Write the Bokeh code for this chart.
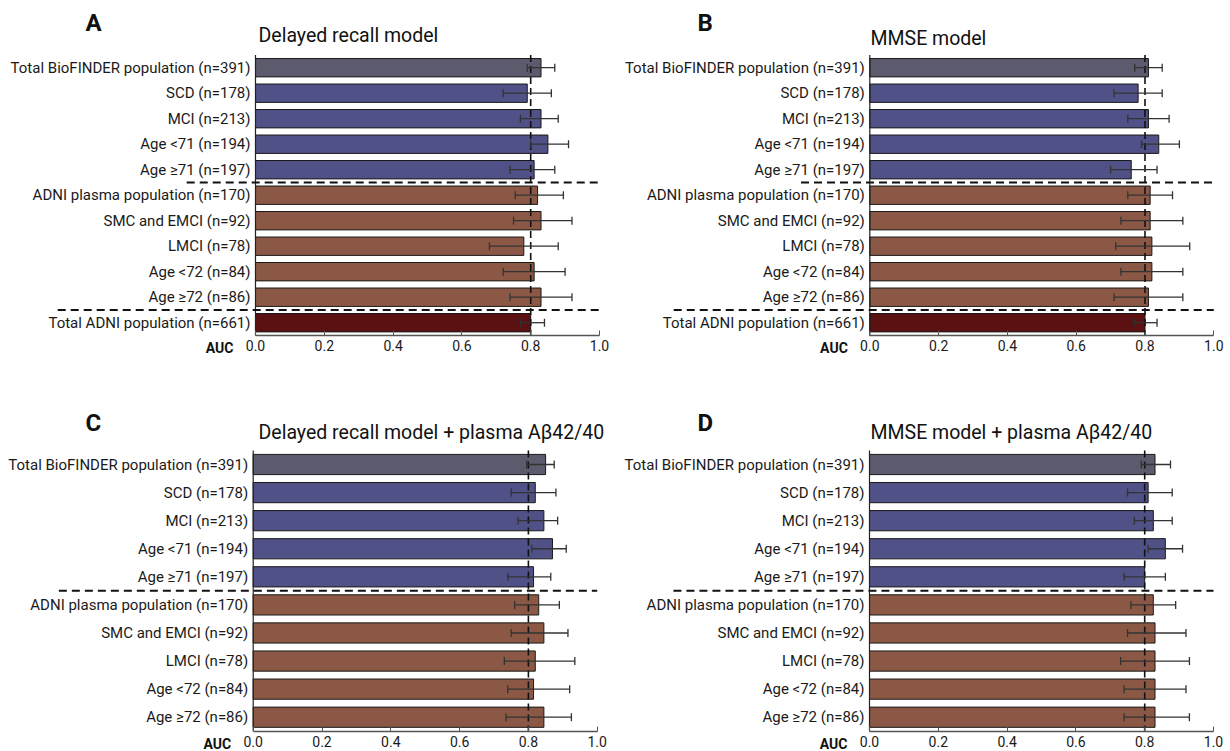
from bokeh.plotting import figure
from bokeh.models import Range1d, Label, ColumnDataSource, FixedTicker, PrintfTickFormatter
from bokeh.layouts import column, row
from bokeh.embed import file_html
from bokeh.resources import INLINE
from bokeh.core.properties import value

FONT = "Roboto"

labels_ab = [
    "Total BioFINDER population (n=391)",
    "SCD (n=178)",
    "MCI (n=213)",
    "Age <71 (n=194)",
    "Age \u226571 (n=197)",
    "ADNI plasma population (n=170)",
    "SMC and EMCI (n=92)",
    "LMCI (n=78)",
    "Age <72 (n=84)",
    "Age \u226572 (n=86)",
    "Total ADNI population (n=661)",
]
labels_cd = labels_ab[:10]

groups_ab = ["bf_total", "bf", "bf", "bf", "bf", "adni", "adni", "adni", "adni", "adni", "adni_total"]
groups_cd = groups_ab[:10]

# Panel A: Delayed recall model
auc_a = [0.83, 0.79, 0.83, 0.85, 0.81, 0.82, 0.83, 0.78, 0.81, 0.83, 0.80]
lo_a = [0.79, 0.72, 0.77, 0.80, 0.74, 0.755, 0.75, 0.68, 0.72, 0.74, 0.77]
hi_a = [0.87, 0.86, 0.88, 0.91, 0.87, 0.895, 0.92, 0.88, 0.90, 0.92, 0.84]

# Panel B: MMSE model
auc_b = [0.81, 0.78, 0.81, 0.84, 0.76, 0.815, 0.815, 0.82, 0.82, 0.81, 0.80]
lo_b = [0.77, 0.71, 0.75, 0.79, 0.70, 0.75, 0.73, 0.715, 0.73, 0.71, 0.77]
hi_b = [0.85, 0.85, 0.87, 0.90, 0.835, 0.88, 0.91, 0.93, 0.91, 0.91, 0.835]

# Panel C: Delayed recall model + plasma Abeta42/40
auc_c = [0.85, 0.82, 0.845, 0.87, 0.815, 0.83, 0.845, 0.82, 0.815, 0.845]
lo_c = [0.795, 0.75, 0.77, 0.81, 0.74, 0.76, 0.75, 0.73, 0.74, 0.735]
hi_c = [0.875, 0.88, 0.885, 0.91, 0.865, 0.89, 0.915, 0.935, 0.92, 0.925]

# Panel D: MMSE model + plasma Abeta42/40
auc_d = [0.83, 0.81, 0.825, 0.86, 0.80, 0.825, 0.83, 0.83, 0.83, 0.83]
lo_d = [0.79, 0.75, 0.77, 0.81, 0.74, 0.76, 0.75, 0.73, 0.74, 0.74]
hi_d = [0.875, 0.88, 0.88, 0.91, 0.86, 0.89, 0.92, 0.93, 0.92, 0.93]

x_ticks = [0.0, 0.2, 0.4, 0.6, 0.8, 1.0]
threshold = 0.8

group_colors = {
    "bf_total": "#5c5b6d",
    "bf": "#505186",
    "adni": "#8b5846",
    "adni_total": "#5b1011",
}
family = {"bf_total": "bf", "bf": "bf", "adni": "adni", "adni_total": "adni_total"}

X_SCALE = 344.0  # px per AUC unit


def make_panel(letter, title, labels, groups, auc, lo, hi, zero_px, width, height,
               first_row_px, pitch, sep_starts, letter_pos, title_pos, auc_px):
    n = len(labels)
    x_start = -zero_px / X_SCALE
    x_end = x_start + width / X_SCALE
    y_top = -first_row_px / pitch
    y_bottom = y_top + height / pitch
    p = figure(
        width=width, height=height,
        x_range=Range1d(x_start, x_end),
        y_range=Range1d(start=y_bottom, end=y_top),
        output_backend="svg", toolbar_location=None,
        y_axis_location=None,
        min_border_left=0, min_border_right=0, min_border_top=0, min_border_bottom=0,
    )
    p.outline_line_color = None
    p.xgrid.visible = False
    p.ygrid.visible = False
    p.background_fill_color = "white"

    rows = list(range(n))
    src = ColumnDataSource(dict(
        y=rows, auc=auc, lo=lo, hi=hi,
        color=[group_colors[g] for g in groups],
    ))
    p.hbar(y="y", left=0, right="auc", height=0.72, fill_color="color",
           line_color="#1a1a1a", line_width=1, source=src)

    # threshold line and left spine
    p.segment(x0=[threshold], y0=[-0.5], x1=[threshold], y1=[n - 0.5],
              line_color="#111111", line_dash="7 4", line_width=1.6)
    p.segment(x0=[0], y0=[-0.5], x1=[0], y1=[n - 0.5], line_color="#222222", line_width=1.2)

    # error bars
    p.segment(x0="lo", y0="y", x1="hi", y1="y", line_color="#333333", line_width=1.3, source=src)
    p.scatter(x="lo", y="y", marker="dash", size=8, angle=1.5708, line_color="#333333",
              line_width=1.3, source=src)
    p.scatter(x="hi", y="y", marker="dash", size=8, angle=1.5708, line_color="#333333",
              line_width=1.3, source=src)

    # separators between population blocks
    bounds = [i - 0.5 for i in range(1, n) if family[groups[i]] != family[groups[i - 1]]]
    p.segment(x0=sep_starts[:len(bounds)], y0=bounds, x1=[1.0] * len(bounds), y1=bounds,
              line_color="#111111", line_dash="8 5", line_width=2)

    # category labels
    p.text(x=[0] * n, y=rows, text=labels, x_offset=-5, text_align="right",
           text_baseline="middle", text_font=value(FONT), text_font_size="15px",
           text_color="#1a1a1a")

    ax = p.xaxis[0]
    ax.fixed_location = n - 0.5
    ax.bounds = (0, 1)
    ax.ticker = FixedTicker(ticks=x_ticks)
    ax.formatter = PrintfTickFormatter(format="%.1f")
    ax.axis_line_color = "#555555"
    ax.axis_line_width = 1.5
    ax.major_tick_in = 5
    ax.major_tick_out = 0
    ax.major_tick_line_color = "#555555"
    ax.minor_tick_line_color = None
    ax.major_label_standoff = 5
    ax.major_label_text_font = FONT
    ax.major_label_text_font_size = "14px"
    ax.major_label_text_color = "#1a1a1a"

    p.add_layout(Label(x=0, x_units="data", x_offset=-22, y=height - auc_px, y_units="screen",
                       text="AUC", text_align="right", text_baseline="middle",
                       text_font=FONT, text_font_size="14px", text_font_style="bold",
                       text_color="#111111"))
    p.add_layout(Label(x=letter_pos[0], y=height - letter_pos[1], x_units="screen", y_units="screen",
                       text=letter, text_align="left", text_baseline="middle",
                       text_font=FONT, text_font_size="24px", text_font_style="bold",
                       text_color="#111111"))
    p.add_layout(Label(x=title_pos[0], y=height - title_pos[1], x_units="screen", y_units="screen",
                       text=title, text_align="left", text_baseline="middle",
                       text_font=FONT, text_font_size="19.5px", text_color="#111111"))
    return p


pa = make_panel("A", "Delayed recall model", labels_ab, groups_ab, auc_a, lo_a, hi_a,
                255, 615, 405, 67.2, 25.5, [-0.2, -0.575], (85, 22), (258, 35), 347)
pb = make_panel("B", "MMSE model", labels_ab, groups_ab, auc_b, lo_b, hi_b,
                254.3, 615, 405, 67.2, 25.5, [-0.2, -0.57], (82, 22), (255, 38), 347)
pc = make_panel("C", "Delayed recall model + plasma A\u03b242/40", labels_cd, groups_cd,
                auc_c, lo_c, hi_c, 252.7, 615, 346, 59, 28.08, [-0.565], (85, 17), (258, 27), 338)
pd_ = make_panel("D", "MMSE model + plasma A\u03b242/40", labels_cd, groups_cd,
                 auc_d, lo_d, hi_d, 254, 615, 346, 59, 28.08, [-0.57], (82, 17), (255, 27), 338)

layout = column(row(pa, pb), row(pc, pd_))
open("out.html", "w").write(file_html(layout, INLINE))
